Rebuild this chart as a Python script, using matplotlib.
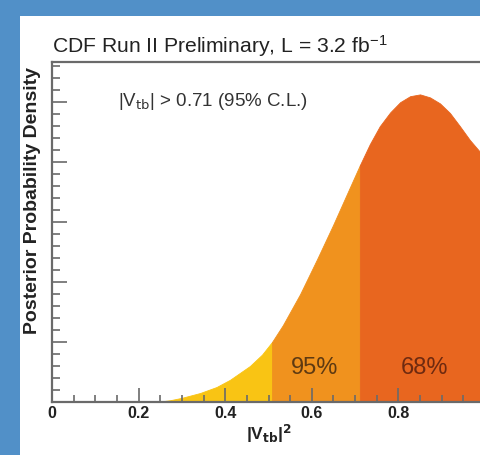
import numpy as np
import matplotlib
matplotlib.use("Agg")
import matplotlib.pyplot as plt
from matplotlib.patches import Rectangle
from matplotlib.ticker import MultipleLocator, FuncFormatter

# ---- data ----
vtb2 = [0.24, 0.273, 0.30, 0.342, 0.38, 0.411, 0.457, 0.485, 0.508, 0.533, 0.573,
        0.612, 0.649, 0.688, 0.711, 0.734, 0.757, 0.781, 0.804, 0.827, 0.850,
        0.873, 0.896, 0.919, 0.942, 0.965, 0.991, 1.0]
density = [0.0, 0.03, 0.07, 0.15, 0.25, 0.37, 0.60, 0.79, 1.00, 1.28, 1.80,
           2.38, 2.95, 3.58, 3.95, 4.30, 4.60, 4.83, 5.00, 5.10, 5.13,
           5.08, 4.98, 4.82, 4.60, 4.37, 4.15, 4.05]
cut95 = 0.508
cut68 = 0.711
xtick_labels = {0.0: "0", 0.2: "0.2", 0.4: "0.4", 0.6: "0.6", 0.8: "0.8"}
title = "CDF Run II Preliminary, L = 3.2 fb$^{-1}$"
note = "|V$_{\\rm tb}$| > 0.71 (95% C.L.)"

plt.rcParams['font.family'] = ['Liberation Sans', 'DejaVu Sans']
plt.rcParams['mathtext.default'] = 'regular'

fig = plt.figure(figsize=(4.81, 4.55), dpi=100)
fig.patch.set_facecolor('#5190c8')
fig.patches.append(Rectangle((20 / 481, 0), 1, 1 - 16 / 455, transform=fig.transFigure,
                             facecolor='white', edgecolor='none', zorder=-5))

ax = fig.add_axes([52 / 481, 53 / 455, 433 / 481, 340 / 455])
ax.set_facecolor('none')
ax.set_zorder(2)

x = np.array(vtb2)
y = np.array(density)
m1 = x <= cut95
m2 = (x >= cut95) & (x <= cut68)
m3 = x >= cut68
for m, c in [(m1, '#f9c414'), (m2, '#f0921e'), (m3, '#e8661f')]:
    ax.fill_between(x[m], 0, y[m], facecolor=c, edgecolor=c, lw=0.6)

ax.set_xlim(0, 1.0)
ax.set_ylim(0, 5.67)

ax.xaxis.set_major_locator(MultipleLocator(0.2))
ax.xaxis.set_minor_locator(MultipleLocator(0.05))
ax.yaxis.set_major_locator(MultipleLocator(1))
ax.yaxis.set_minor_locator(MultipleLocator(0.2))
ax.xaxis.set_major_formatter(FuncFormatter(lambda v, p: xtick_labels.get(round(v, 2), "")))
ax.yaxis.set_major_formatter(FuncFormatter(lambda v, p: ""))

for s in ax.spines.values():
    s.set_color('#6a6a6a')
    s.set_linewidth(1.6)

ax.tick_params(axis='both', which='both', direction='in', colors='#6a6a6a', width=1.2)
ax.tick_params(axis='x', which='major', length=10, labelsize=11.5, labelcolor='#222222', pad=3)
ax.tick_params(axis='x', which='minor', length=5)
ax.tick_params(axis='y', which='major', length=11)
ax.tick_params(axis='y', which='minor', length=6)
ax.tick_params(right=False, top=False)
for lab in ax.get_xticklabels():
    lab.set_fontweight('bold')

ax.set_xlabel("|V$_{\\bf tb}$|$^{\\bf 2}$", fontsize=12.5, fontweight='bold', color='#222222', labelpad=1)

fig.text(33 / 481, 1 - 201 / 455, "Posterior Probability Density", rotation=90,
         ha='center', va='center', fontsize=14, fontweight='bold', color='#222222')
fig.text(52 / 481, 1 - 46 / 455, title, ha='left', va='center', fontsize=15.2, color='#222222')

ax.text((118 - 52) / 433, 1 - (102 - 62) / 340, note, transform=ax.transAxes,
        ha='left', va='center', fontsize=13.5, color='#333333')

ax.text((315 - 52) / 433, (402 - 368) / 340, "95%", transform=ax.transAxes,
        ha='center', va='center', fontsize=17, color='#5e3a12')
ax.text((425 - 52) / 433, (402 - 368) / 340, "68%", transform=ax.transAxes,
        ha='center', va='center', fontsize=17, color='#6e2a10')

fig.savefig("out.png", dpi=100, facecolor=fig.get_facecolor())
